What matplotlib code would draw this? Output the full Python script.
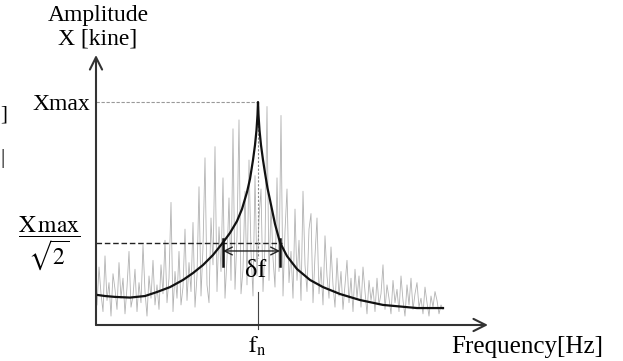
import matplotlib.pyplot as plt
import numpy as np

plt.rcParams["font.family"] = ["Liberation Serif", "DejaVu Serif"]
plt.rcParams["mathtext.fontset"] = "stix"

# resonance curve (frequency in Hz, amplitude in kine, arbitrary scale)
curve_freq = [0.025, 0.225, 0.475, 0.85, 1.225, 1.525, 1.85, 2.175, 2.425, 2.675,
              2.925, 3.175, 3.35, 3.525, 3.65, 3.775, 3.85, 3.925, 3.975, 4.0125,
              4.0375, 4.05, 4.0625, 4.0875, 4.125, 4.175, 4.225, 4.2875, 4.35, 4.475,
              4.6, 4.775, 5.025, 5.35, 5.675, 6.1, 6.6, 7.175, 8.025, 8.675]
curve_amp = [13.5, 13.0, 12.6, 12.3, 13.0, 14.8, 17.0, 20.2, 23.3, 26.9,
             31.4, 37.0, 41.3, 46.6, 52.0, 59.6, 65.5, 74.0, 80.7, 87.4,
             94.2, 100.0, 94.2, 87.4, 80.7, 74.0, 68.2, 61.4, 56.1, 45.3,
             37.0, 30.9, 25.1, 20.2, 17.0, 13.9, 11.2, 9.0, 7.6, 7.6]

# measured spectrum, sampled from 0.025 Hz to 8.675 Hz
spectrum_amp = [
    9, 26, 14, 6, 31, 11, 19, 4, 23, 16,
    7, 28, 12, 21, 5, 17, 33, 8, 13, 25,
    6, 19, 10, 36, 15, 4, 22, 12, 29, 9,
    18, 7, 27, 14, 38, 10, 21, 55, 6, 24,
    12, 33, 9, 17, 43, 11, 28, 15, 46, 8,
    22, 62, 13, 35, 75, 18, 10, 48, 27, 80,
    15, 44, 24, 66, 12, 30, 57, 20, 88, 16,
    40, 92, 14, 25, 60, 18, 74, 33, 13, 67,
    22, 48, 61, 15, 36, 98, 20, 54, 30, 17,
    66, 24, 94, 13, 42, 61, 19, 33, 12, 52,
    20, 38, 11, 60, 27, 15, 43, 50, 10, 31,
    48, 14, 26, 9, 40, 22, 12, 35, 18, 8,
    30, 13, 24, 7, 18, 29, 10, 21, 6, 25,
    12, 22, 8, 26, 15, 5, 20, 11, 17, 6,
    21, 9, 14, 27, 7, 18, 12, 5, 20, 10,
    16, 6, 22, 11, 4, 18, 9, 21, 7, 14,
    19, 8, 12, 5, 17, 10, 4, 13, 8, 15,
    11, 5, 9, 7,
]
spectrum_start, spectrum_stop = 0.025, 8.675

f_n = 4.05
x_max = 100.0
half_level = 37.0
f_low, f_high = 3.175, 4.6

freq_limit = 9.8
amp_limit = 121.1

fig = plt.figure(figsize=(6.23, 3.61), dpi=100)
ax = fig.add_axes([96 / 623, 36 / 361, 392 / 623, 270 / 361])
ax.set_xlim(0, freq_limit)
ax.set_ylim(0, amp_limit)
ax.axis("off")

spectrum_freq = np.linspace(spectrum_start, spectrum_stop, len(spectrum_amp))
ax.plot(spectrum_freq, spectrum_amp, color="#b2b2b2", lw=0.6, zorder=1)
ax.plot(curve_freq, curve_amp, color="#111111", lw=1.6, zorder=3)

# reference levels
ax.plot([0, f_n], [x_max, x_max], color="#999999", lw=0.8, ls=(0, (3, 1.5)), zorder=2)
ax.plot([0, f_high + 0.05], [half_level, half_level], color="#222222", lw=1.0,
        ls=(0, (4, 2)), zorder=2)
ax.plot([f_n, f_n], [x_max, 30], color="#888888", lw=0.8, ls=(0, (2, 1.5)), zorder=2)
ax.plot([f_n, f_n], [15, -2], color="#444444", lw=0.8, zorder=2, clip_on=False)

# bandwidth marker
bw_y = 33.2
ax.annotate("", xy=(f_high, bw_y), xytext=(f_low, bw_y),
            arrowprops=dict(arrowstyle="<->", lw=1.0, color="#222222",
                            shrinkA=0, shrinkB=0, mutation_scale=14))
for f in (f_low, f_high):
    ax.plot([f, f], [38.5, 26.5], color="#111111", lw=1.8, zorder=4)
ax.text(3.98, 24.0, "δf", fontsize=19, ha="center", va="center")

# axes with arrow heads
arrow_kw = dict(arrowstyle="->", lw=1.5, color="#333333", shrinkA=0, shrinkB=0,
                mutation_scale=22)
ax.annotate("", xy=(freq_limit, 0), xytext=(0, 0), arrowprops=arrow_kw,
            annotation_clip=False)
ax.annotate("", xy=(0, amp_limit), xytext=(0, 0), arrowprops=arrow_kw,
            annotation_clip=False)

fig.text(98 / 623, 1 - 16 / 361, "Amplitude", fontsize=17, ha="center", va="center")
fig.text(98 / 623, 1 - 39 / 361, "X [kine]", fontsize=17, ha="center", va="center")
fig.text(90 / 623, 1 - 105 / 361, "Xmax", fontsize=17, ha="right", va="center")
fig.text(49 / 623, 1 - 244 / 361, r"$\dfrac{\mathrm{X\,max}}{\sqrt{2}}$", fontsize=17,
         ha="center", va="center")
fig.text(257 / 623, 1 - 346 / 361, r"$\mathrm{f_n}$", fontsize=17, ha="center",
         va="center")
fig.text(527 / 623, 1 - 347 / 361, "Frequency[Hz]", fontsize=18, ha="center",
         va="center")
fig.text(0.0, 1 - 115 / 361, "]", fontsize=15, ha="left", va="center")
fig.text(0.0, 1 - 158 / 361, "|", fontsize=15, ha="left", va="center")

fig.savefig("out.png", dpi=100)
